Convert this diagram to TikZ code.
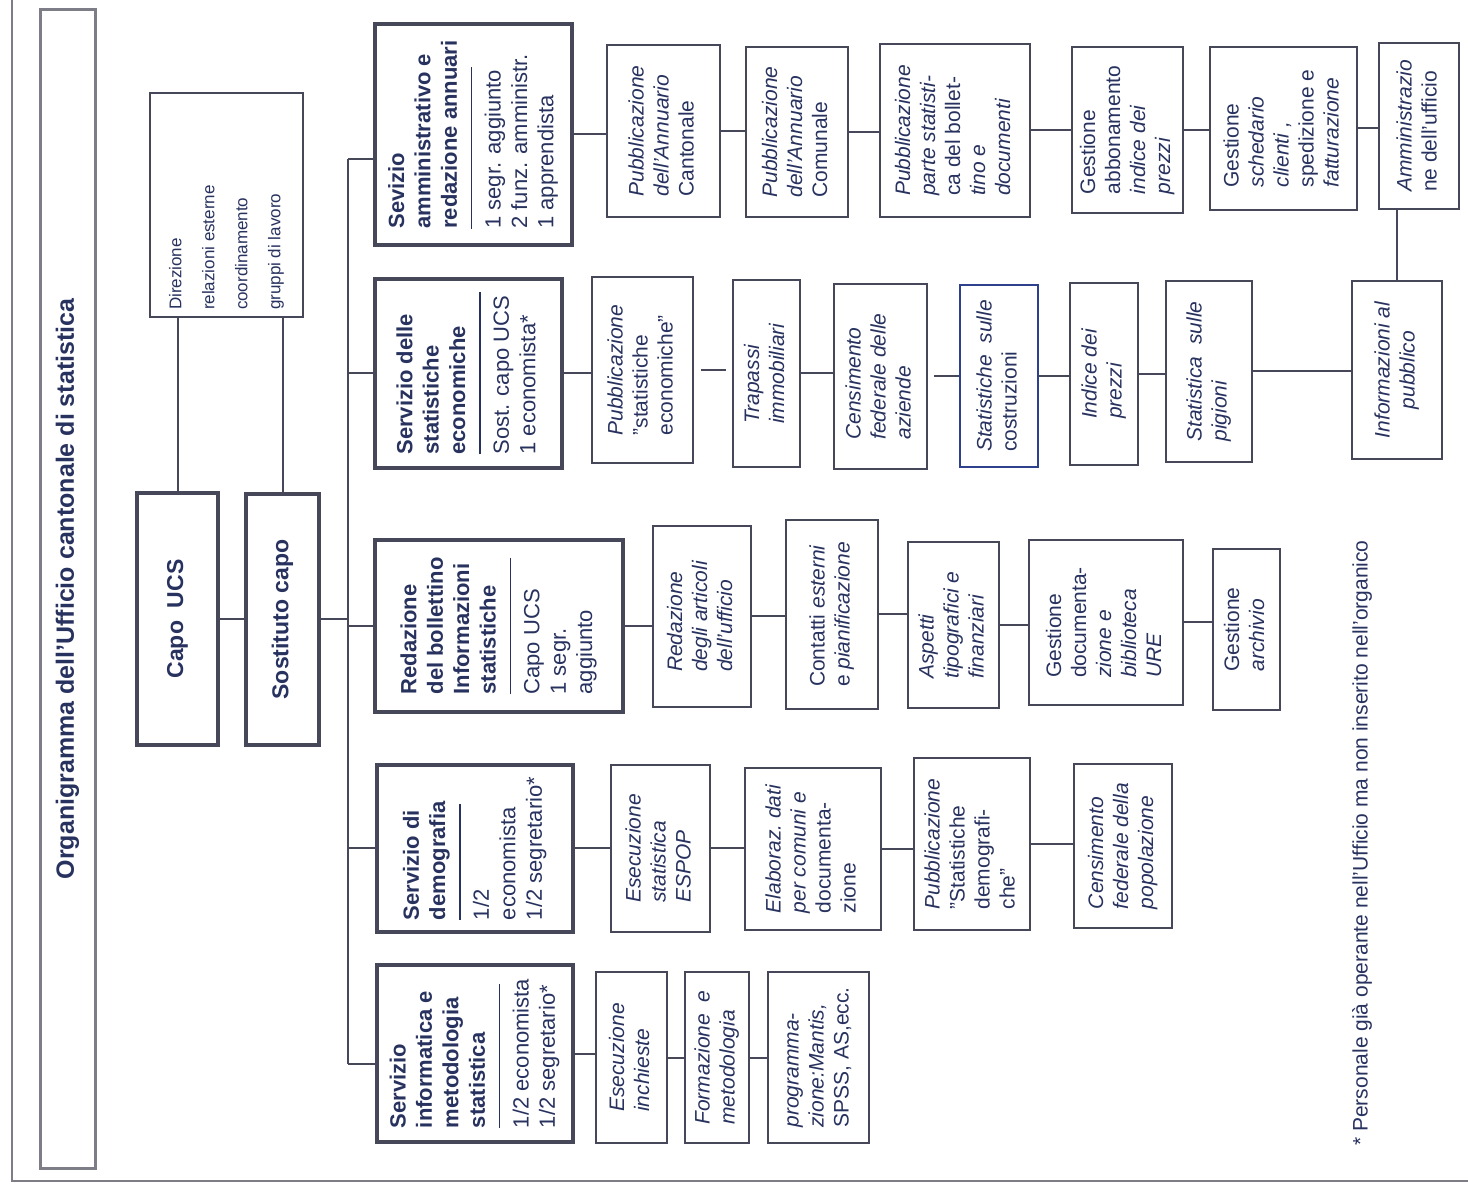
\documentclass[tikz,border=0pt]{standalone}
\usepackage{fontspec}
\setmainfont{Liberation Sans}
\usetikzlibrary{fit}

\definecolor{inkc}{RGB}{40,50,95}
\definecolor{linec}{RGB}{70,72,90}
\definecolor{bluec}{RGB}{45,65,140}
\definecolor{framec}{RGB}{125,125,135}

% lines of a box, read from bottom to top
\newcommand{\vt}[1]{\begin{tabular}{@{}l@{}}#1\end{tabular}}
\newcommand{\vtc}[1]{\begin{tabular}{@{}c@{}}#1\end{tabular}}
\newcommand{\divline}[1]{\\[-4pt]\rule[1.4pt]{#1}{0.8pt}\\[-0.5pt]}

\tikzset{
  box/.style={draw=linec, line width=1pt, inner sep=0pt},
  srvbox/.style={box, line width=2pt},
  vtx/.style={rotate=90, inner sep=0pt, text=inkc, font=\fontsize{10.5}{12.5}\selectfont},
  svtx/.style={vtx, font=\fontsize{11}{13.2}\selectfont},
  htx/.style={vtx, font=\bfseries\fontsize{11.5}{13}\selectfont},
  conn/.style={draw=linec, line width=1pt},
}

\begin{document}
\begin{tikzpicture}[x=0.5pt, y=-0.5pt]
\useasboundingbox (0,0) rectangle (1468,1186);

% frame and title
\draw[framec, line width=1pt] (12,0) -- (12,1181) -- (1468,1181);
\node[draw=framec, line width=1.5pt, inner sep=0pt, fit={(40,10) (95,1168)},
  label={[rotate=90, text=inkc, font=\bfseries\fontsize{12.5}{14}\selectfont]center:Organigramma dell'Ufficio cantonale di statistica}] (titolo) {};

% direzione
\node[box, fit={(150,93) (303,317)}, label={[vtx]center:{\begin{minipage}{105pt}\fontsize{8.5}{16.5}\selectfont
  Direzione\\ relazioni esterne\\ coordinamento\\ gruppi di lavoro\end{minipage}}}] (dir) {};
\node[srvbox, fit={(137,493) (218,745)}, label={[htx]center:Capo\ \ UCS}] (capo) {};
\node[srvbox, fit={(246,494) (319,745)}, label={[htx]center:Sostituto capo}] (sost) {};

% servizi
\node[srvbox, fit={(375,24) (572,245)}, label={[svtx]center:{\vt{\bfseries Sevizio\\ \bfseries amministrativo e\\ \bfseries redazione annuari\divline{81pt}
  1 segr. aggiunto\\ 2 funz. amministr.\\ 1 apprendista}}}] (s1) {};
\node[srvbox, fit={(375,279) (562,468)}, label={[svtx]center:{\vt{\bfseries Servizio delle\\ \bfseries statistiche\\ \bfseries economiche\divline{81pt}
  Sost. capo UCS\\ 1 economista*}}}] (s2) {};
\node[srvbox, fit={(375,540) (623,712)}, label={[svtx]center:{\vt{\bfseries Redazione\\ \bfseries del bollettino\\ \bfseries Informazioni\\ \bfseries statistiche\divline{68pt}
  Capo UCS\\ 1 segr.\\ aggiunto}}}] (s3) {};
\node[srvbox, fit={(377,765) (573,932)}, label={[svtx]center:{\vt{\bfseries Servizio di\\ \bfseries demografia\divline{58pt}
  1/2\\ economista\\ 1/2 segretario*}}}] (s4) {};
\node[srvbox, fit={(377,965) (573,1142)}, label={[svtx]center:{\vt{\bfseries Servizio\\ \bfseries informatica e\\ \bfseries metodologia\\ \bfseries statistica\divline{72pt}
  1/2 economista\\ 1/2 segretario*}}}] (s5) {};

% annuari
\node[box, fit={(607,45) (720,217)}, label={[vtx]center:{\vt{\itshape Pubblicazione\\ \itshape dell'Annuario\\ Cantonale}}}] (a1) {};
\node[box, fit={(746,47) (848,217)}, label={[vtx]center:{\vt{\itshape Pubblicazione\\ \itshape dell'Annuario\\ Comunale}}}] (a2) {};
\node[box, fit={(880,44) (1030,217)}, label={[vtx]center:{\vt{\itshape Pubblicazione\\ \itshape parte statisti-\\ ca del bollet-\\ \itshape tino e\\ \itshape documenti}}}] (a3) {};
\node[box, fit={(1072,47) (1183,213)}, label={[vtx]center:{\vt{Gestione\\ abbonamento\\ \itshape indice dei\\ \itshape prezzi}}}] (a4) {};
\node[box, fit={(1210,47) (1357,210)}, label={[vtx]center:{\vt{Gestione\\ \itshape schedario\\ \itshape clienti ,\\ spedizione e\\ \itshape fatturazione}}}] (a5) {};
\node[box, fit={(1379,43) (1459,209)}, label={[vtx]center:{\vt{\itshape Amministrazio\\ ne dell'ufficio}}}] (a6) {};

% statistiche economiche
\node[box, fit={(592,277) (693,463)}, label={[vtx]center:{\vt{\itshape Pubblicazione\\ "statistiche\\ economiche"}}}] (e1) {};
\node[box, fit={(733,280) (800,467)}, label={[vtx]center:{\vt{\itshape Trapassi\\ \itshape immobiliari}}}] (e2) {};
\node[box, fit={(834,284) (927,469)}, label={[vtx]center:{\vt{\itshape Censimento\\ \itshape federale delle\\ \itshape aziende}}}] (e3) {};
\node[box, draw=bluec, fit={(960,285) (1038,467)}, label={[vtx]center:{\vt{\itshape Statistiche\ \ sulle\\ costruzioni}}}] (e4) {};
\node[box, fit={(1070,283) (1138,465)}, label={[vtx]center:{\vt{\itshape Indice dei\\ \itshape prezzi}}}] (e5) {};
\node[box, fit={(1166,281) (1252,462)}, label={[vtx]center:{\vt{\itshape Statistica\ \ sulle\\ \itshape pigioni}}}] (e6) {};
\node[box, fit={(1352,281) (1442,459)}, label={[vtx]center:{\vtc{\itshape Informazioni al\\ \itshape pubblico}}}] (e7) {};

% bollettino
\node[box, fit={(653,526) (751,707)}, label={[vtx]center:{\vt{\itshape Redazione\\ \itshape degli articoli\\ \itshape dell'ufficio}}}] (b1) {};
\node[box, fit={(786,520) (878,709)}, label={[vtx]center:{\vt{Contatti \textit{esterni}\\ e \textit{pianificazione}}}}] (b2) {};
\node[box, fit={(908,542) (999,708)}, label={[vtx]center:{\vt{\itshape Aspetti\\ \itshape tipografici e\\ \itshape finanziari}}}] (b3) {};
\node[box, fit={(1029,540) (1183,705)}, label={[vtx]center:{\vt{Gestione\\ documenta-\\ \itshape zione e\\ \itshape biblioteca\\ \itshape URE}}}] (b4) {};
\node[box, fit={(1213,549) (1280,710)}, label={[vtx]center:{\vt{Gestione\\ \itshape archivio}}}] (b5) {};

% demografia
\node[box, fit={(611,765) (710,932)}, label={[vtx]center:{\vt{\itshape Esecuzione\\ \itshape statistica\\ \itshape ESPOP}}}] (d1) {};
\node[box, fit={(745,768) (881,930)}, label={[vtx]center:{\vt{\itshape Elaboraz.\ dati\\ \itshape per comuni e\\ documenta-\\ zione}}}] (d2) {};
\node[box, fit={(914,758) (1030,930)}, label={[vtx]center:{\vt{\itshape Pubblicazione\\ "Statistiche\\ demografi-\\ che"}}}] (d3) {};
\node[box, fit={(1074,764) (1172,928)}, label={[vtx]center:{\vt{\itshape Censimento\\ \itshape federale della\\ \itshape popolazione}}}] (d4) {};

% informatica
\node[box, fit={(596,972) (667,1143)}, label={[vtx]center:{\vt{\itshape Esecuzione\\ \itshape inchieste}}}] (i1) {};
\node[box, fit={(685,972) (749,1143)}, label={[vtx]center:{\vt{\itshape Formazione\ \ e\\ \itshape metodologia}}}] (i2) {};
\node[box, fit={(768,972) (869,1143)}, label={[vtx]center:{\vt{\itshape programma-\\ \itshape zione:Mantis,\\ SPSS, AS,ecc.}}}] (i3) {};

\node[rotate=90, text=inkc, font=\fontsize{10.5}{12}\selectfont] (nota) at (1362,843)
  {* Personale già operante nell'Ufficio ma non inserito nell'organico};

% vertici
\draw[conn] (dir.south -| capo) -- (capo.north);
\draw[conn] (dir.south -| sost) -- (sost.north);
\draw[conn] (capo.east) -- (capo.east -| sost.west);
\coordinate (jt) at (348,630);
\coordinate (s1in) at ([yshift=-12.5pt]s1.west);
\coordinate (s5in) at ([yshift=-5pt]s5.west);
\draw[conn] (sost.east) -- (sost.east -| jt);
\draw[conn] (s1in -| jt) -- (s5in -| jt);
\draw[conn] (s1in -| jt) -- (s1in) (s2.west -| jt) -- (s2.west)
  (s3.west -| jt) -- (s3.west) (s4.west -| jt) -- (s4.west) (s5in -| jt) -- (s5in);

% righe
\draw[conn] (s1.east) -- (s1.east -| a1.west) (a1.east) -- (a1.east -| a2.west)
  (a2.east) -- (a2.east -| a3.west) (a3.east) -- (a3.east -| a4.west)
  (a4.east) -- (a4.east -| a5.west) (a5.east) -- (a5.east -| a6.west);
\draw[conn] (e7.north) -- (e7.north |- a6.south);
\draw[conn] (s2.east) -- (s2.east -| e1.west);
\draw[conn, shorten <=3.5pt, shorten >=3pt] (e1.east) -- (e1.east -| e2.west);
\draw[conn] (e2.east) -- (e2.east -| e3.west);
\draw[conn, shorten <=3pt] (e3.east) -- (e3.east -| e4.west);
\draw[conn] (e4.east) -- (e4.east -| e5.west) (e5.east) -- (e5.east -| e6.west)
  (e6.east) -- (e6.east -| e7.west);
\draw[conn] (s3.east) -- (s3.east -| b1.west) (b1.east) -- (b1.east -| b2.west)
  (b2.east) -- (b2.east -| b3.west) (b3.east) -- (b3.east -| b4.west)
  (b4.east) -- (b4.east -| b5.west);
\draw[conn] (s4.east) -- (s4.east -| d1.west) (d1.east) -- (d1.east -| d2.west)
  (d2.east) -- (d2.east -| d3.west) (d3.east) -- (d3.east -| d4.west);
\draw[conn] (s5.east) -- (s5.east -| i1.west) (i1.east) -- (i1.east -| i2.west)
  (i2.east) -- (i2.east -| i3.west);
\end{tikzpicture}
\end{document}
